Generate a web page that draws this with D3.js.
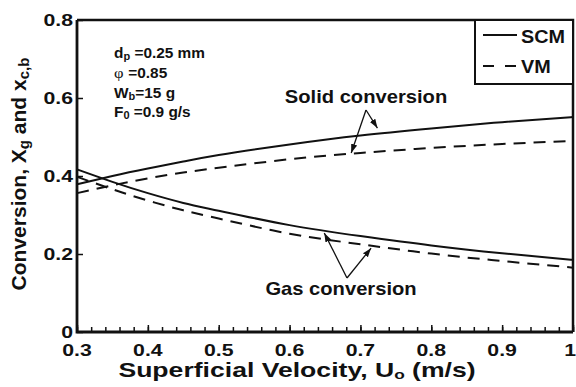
<!DOCTYPE html>
<html>
<head>
<meta charset="utf-8">
<script src="https://cdn.jsdelivr.net/npm/d3@7"></script>
<style>
  html, body { margin: 0; padding: 0; background: #fff; }
  svg { display: block; font-family: "Liberation Sans", Arial, sans-serif; font-weight: bold; }
</style>
</head>
<body>
<svg id="chart" width="576" height="387"></svg>
<script>
// Superficial velocity (m/s)
const velocity = [0.3, 0.35, 0.4, 0.45, 0.5, 0.6, 0.7, 0.8, 0.9, 1.0];
// Solid conversion x_c,b
const solidSCM = [0.379, 0.400, 0.419, 0.437, 0.454, 0.481, 0.504, 0.522, 0.538, 0.551];
const solidVM  = [0.356, 0.376, 0.394, 0.409, 0.421, 0.443, 0.459, 0.472, 0.482, 0.490];
// Gas conversion X_g
const gasSCM = [0.417, 0.385, 0.356, 0.331, 0.311, 0.274, 0.246, 0.222, 0.202, 0.185];
const gasVM  = [0.398, 0.366, 0.337, 0.312, 0.291, 0.252, 0.225, 0.201, 0.182, 0.165];

const xTicks = [0.3, 0.4, 0.5, 0.6, 0.7, 0.8, 0.9, 1.0];
const xTickLabels = ["0.3", "0.4", "0.5", "0.6", "0.7", "0.8", "0.9", "1"];
const yTicks = [0, 0.2, 0.4, 0.6, 0.8];
const yTickLabels = ["0", "0.2", "0.4", "0.6", "0.8"];

const svg = d3.select("#chart");
const plotL = 77, plotR = 573, plotT = 20, plotB = 332;

const x = d3.scaleLinear().domain([0.3, 1.0]).range([plotL, plotR]);
const y = d3.scaleLinear().domain([0, 0.8]).range([plotB, plotT]);

// horizontally widened text, anchored at (px, py)
function label(parent, px, py, size, sx, anchor) {
  return parent.append("text")
    .attr("transform", `translate(${px},${py}) scale(${sx},1)`)
    .attr("font-size", size)
    .attr("text-anchor", anchor || "start")
    .attr("fill", "#111");
}

// frame (top and right)
svg.append("path")
  .attr("d", `M${plotL},${plotT}H${plotR}V${plotB}`)
  .attr("fill", "none").attr("stroke", "#111").attr("stroke-width", 2.5);

// x axis: minor ticks every 0.02, major every 0.1, drawn inward
const minor = d3.range(0.3, 1.0001, 0.02);
svg.append("g")
  .attr("transform", `translate(0,${plotB})`)
  .call(d3.axisBottom(x).tickValues(minor).tickSize(-5).tickFormat(""))
  .call(g => g.select(".domain").remove())
  .call(g => g.selectAll("line").attr("stroke", "#111").attr("stroke-width", 1.5));

svg.append("g")
  .attr("transform", `translate(0,${plotB})`)
  .call(d3.axisBottom(x).tickValues(xTicks).tickSize(-7).tickFormat(""))
  .call(g => g.select(".domain").remove())
  .call(g => g.selectAll("line").attr("stroke", "#111").attr("stroke-width", 1.5));
xTicks.forEach((t, i) => {
  const last = i === xTicks.length - 1;
  label(svg, last ? 576 : x(t), 356, 17, 1.25, last ? "end" : "middle").text(xTickLabels[i]);
});

// y axis: major ticks inward
svg.append("g")
  .attr("transform", `translate(${plotL},0)`)
  .call(d3.axisLeft(y).tickValues(yTicks).tickSize(-6).tickFormat(""))
  .call(g => g.select(".domain").remove())
  .call(g => g.selectAll("line").attr("stroke", "#111").attr("stroke-width", 1.5));
yTicks.forEach((t, i) => {
  label(svg, 73, y(t) + 6, 17, 1.25, "end").text(yTickLabels[i]);
});

// axis lines
svg.append("path")
  .attr("d", `M${plotL},${plotT}V${plotB}H${plotR}`)
  .attr("fill", "none").attr("stroke", "#111").attr("stroke-width", 2.8);

// curves
const line = d3.line().x((d, i) => x(velocity[i])).y(d => y(d)).curve(d3.curveNatural);
const series = [
  { values: solidSCM, dash: null },
  { values: solidVM, dash: "12,8" },
  { values: gasSCM, dash: null },
  { values: gasVM, dash: "12,8" }
];
svg.append("g").selectAll("path").data(series).join("path")
  .attr("d", d => line(d.values))
  .attr("fill", "none")
  .attr("stroke", "#111")
  .attr("stroke-width", 2)
  .attr("stroke-dasharray", d => d.dash);

// legend
const lg = svg.append("g");
lg.append("rect").attr("x", 475).attr("y", plotT).attr("width", plotR - 475).attr("height", 64)
  .attr("fill", "#fff").attr("stroke", "#111").attr("stroke-width", 2);
lg.append("line").attr("x1", 483).attr("x2", 517).attr("y1", 35).attr("y2", 35)
  .attr("stroke", "#111").attr("stroke-width", 2);
lg.append("line").attr("x1", 483).attr("x2", 517).attr("y1", 66).attr("y2", 66)
  .attr("stroke", "#111").attr("stroke-width", 2).attr("stroke-dasharray", "11,11");
label(lg, 521, 43, 18, 1.1).text("SCM");
label(lg, 521, 73, 18, 1.1).text("VM");

// operating conditions
const cond = svg.append("g");
const t1 = label(cond, 114, 58, 14, 1.1);
t1.append("tspan").text("d");
t1.append("tspan").attr("font-size", 10).attr("dy", 2).text("p");
t1.append("tspan").attr("dy", -2).text(" =0.25 mm");
const t2 = label(cond, 114, 78, 14, 1.1);
t2.append("tspan").attr("font-family", "'Liberation Serif', serif").attr("font-weight", "normal").attr("font-size", 15).text("\u03C6");
t2.append("tspan").attr("x", 13).text("=0.85");
const t3 = label(cond, 114, 98, 14, 1.1);
t3.append("tspan").text("W");
t3.append("tspan").attr("font-size", 10).attr("dy", 2).text("b");
t3.append("tspan").attr("dy", -2).text("=15 g");
const t4 = label(cond, 114, 117, 14, 1.1);
t4.append("tspan").text("F");
t4.append("tspan").attr("font-size", 10).attr("dy", 2).text("0");
t4.append("tspan").attr("dy", -2).text(" =0.9 g/s");

// curve annotations with arrows
svg.append("defs").append("marker")
  .attr("id", "head").attr("viewBox", "0 0 10 10").attr("refX", 10).attr("refY", 5)
  .attr("markerWidth", 9).attr("markerHeight", 9).attr("markerUnits", "userSpaceOnUse")
  .attr("orient", "auto")
  .append("path").attr("d", "M0,1.5L10,5L0,8.5Z").attr("fill", "#111");

function arrow(x1, y1, x2, y2) {
  svg.append("line").attr("x1", x1).attr("y1", y1).attr("x2", x2).attr("y2", y2)
    .attr("stroke", "#111").attr("stroke-width", 1.3).attr("marker-end", "url(#head)");
}
label(svg, 366, 103, 18, 1.12, "middle").text("Solid conversion");
arrow(366, 110, x(0.724), y(0.523));
arrow(366, 110, x(0.687), y(0.459));
label(svg, 341, 295, 18, 1.12, "middle").text("Gas conversion");
arrow(347, 278, x(0.649), y(0.254));
arrow(347, 278, x(0.715), y(0.215));

// axis titles
const xt = label(svg, 297, 377, 20, 1.33, "middle");
xt.append("tspan").text("Superficial Velocity, U");
xt.append("tspan").attr("font-size", 13).attr("dy", 2).text("o");
xt.append("tspan").attr("dy", -2).text(" (m/s)");

const yt = svg.append("text")
  .attr("transform", "translate(26,174) rotate(-90)")
  .attr("font-size", 21).attr("text-anchor", "middle").attr("fill", "#111");
yt.append("tspan").text("Conversion, X");
yt.append("tspan").attr("font-size", 15).attr("dy", 3).text("g");
yt.append("tspan").attr("dy", -3).text(" and x");
yt.append("tspan").attr("font-size", 15).attr("dy", 3).text("c,b");
</script>
</body>
</html>
